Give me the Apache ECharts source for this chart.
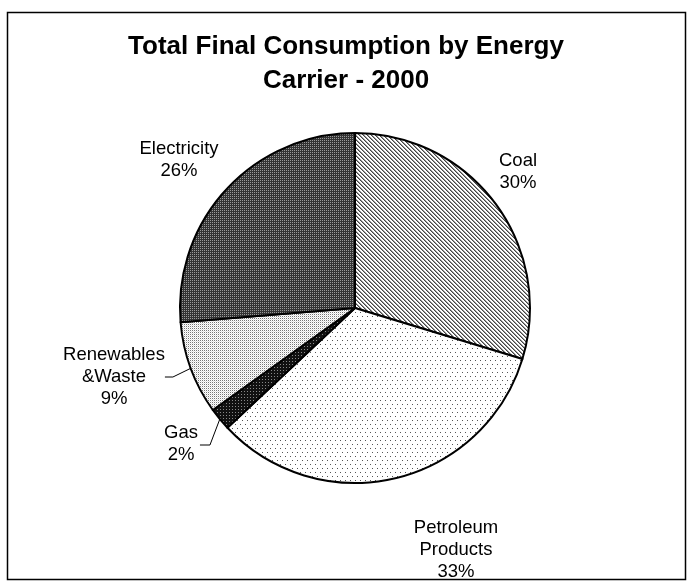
<!DOCTYPE html>
<html>
<head>
<meta charset="utf-8">
<script src="https://cdn.jsdelivr.net/npm/echarts@6/dist/echarts.min.js"></script>
<style>
  html, body { margin: 0; padding: 0; background: #fff; }
  #chart { width: 692px; height: 586px; }
</style>
</head>
<body>
<div id="chart"></div>
<script>
// Final energy consumption shares, 2000 (per cent)
const categories = ['Coal', 'Petroleum\nProducts', 'Gas', 'Renewables\n&Waste', 'Electricity'];
const shares = [29.7, 33.3, 2.1, 8.6, 26.3];
const chartTitle = 'Total Final Consumption by Energy\nCarrier - 2000';

// Small repeating tiles used as monochrome fill patterns
function makeTile(w, h, bg, pixels) {
  const c = document.createElement('canvas');
  c.width = w; c.height = h;
  const ctx = c.getContext('2d');
  ctx.fillStyle = bg;
  ctx.fillRect(0, 0, w, h);
  pixels.forEach(function (p) {
    ctx.fillStyle = p[2];
    ctx.fillRect(p[0], p[1], 1, 1);
  });
  return { image: c, repeat: 'repeat' };
}

// diagonal hatch
const hatch = makeTile(4, 4, '#ffffff', [
  [0, 0, '#444'], [1, 1, '#444'], [2, 2, '#444'], [3, 3, '#444'],
  [1, 0, '#999'], [2, 1, '#999'], [3, 2, '#999'], [0, 3, '#999']
]);
// sparse dots
const sparseDots = makeTile(5, 8, '#ffffff', [[0, 0, '#555'], [2, 4, '#555']]);
// dark fill with light specks
const darkSpeckle = makeTile(3, 3, '#111111', [[1, 1, '#888']]);
// fine light stipple
const fineStipple = makeTile(2, 2, '#ffffff', [[0, 0, '#777'], [1, 1, '#e0e0e0']]);
// dark checker
const darkChecker = makeTile(2, 2, '#333333', [[0, 0, '#9a9a9a']]);

const fills = [hatch, sparseDots, darkSpeckle, fineStipple, darkChecker];

// label anchor points (centre of each text block)
const labelSpots = [[518, 172], [456, 550], [181, 444], [114, 377], [179, 160]];
const showLeader = [false, false, true, true, false];

const chart = echarts.init(document.getElementById('chart'), null, { renderer: 'canvas' });

chart.setOption({
  backgroundColor: '#ffffff',
  animation: false,
  title: {
    text: chartTitle,
    left: 'center',
    top: 25,
    textStyle: {
      fontFamily: 'Liberation Sans, Arial, sans-serif',
      fontSize: 26,
      fontWeight: 'bold',
      color: '#000',
      lineHeight: 34
    }
  },
  graphic: [{
    type: 'rect',
    shape: { x: 7.5, y: 12.5, width: 678, height: 567 },
    style: { fill: 'none', stroke: '#000', lineWidth: 1.5 },
    silent: true,
    z: -1
  }],
  series: [{
    type: 'pie',
    center: [355, 308],
    radius: 175,
    startAngle: 90,
    clockwise: true,
    avoidLabelOverlap: false,
    itemStyle: { borderColor: '#000', borderWidth: 2 },
    label: {
      show: true,
      position: 'outside',
      fontFamily: 'Liberation Sans, Arial, sans-serif',
      fontSize: 18.5,
      lineHeight: 22,
      color: '#000',
      align: 'center',
      formatter: function (p) {
        return p.name + '\n' + Math.round(p.value) + '%';
      }
    },
    labelLine: {
      show: true,
      length: 6,
      length2: 8,
      lineStyle: { color: '#000', width: 1 }
    },
    labelLayout: function (params) {
      const s = labelSpots[params.dataIndex];
      const out = {
        x: s[0],
        y: s[1],
        align: 'center',
        verticalAlign: 'middle'
      };
      // Gas: leader leaves the slice edge, bends, and meets the text block on its right side
      if (params.dataIndex === 2 && params.labelLinePoints && params.labelLinePoints[0]) {
        const edge = params.labelLinePoints[0];
        const right = s[0] + params.labelRect.width / 2 + 2;
        out.labelLinePoints = [
          [edge[0], edge[1]],
          [right + 10, s[1] + 1],
          [right, s[1] + 1]
        ];
      }
      return out;
    },
    emphasis: { disabled: true },
    data: categories.map(function (name, i) {
      return {
        name: name,
        value: shares[i],
        itemStyle: { color: fills[i] },
        labelLine: { show: showLeader[i] }
      };
    })
  }]
});
</script>
</body>
</html>
